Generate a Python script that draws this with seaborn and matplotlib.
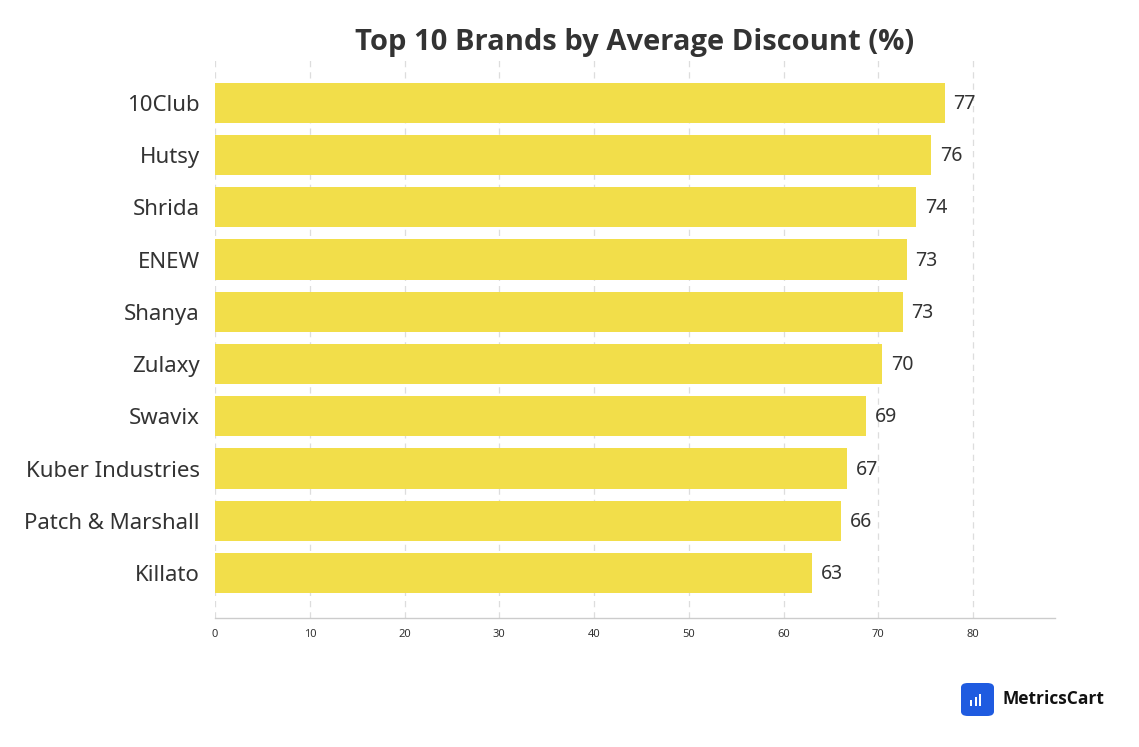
import matplotlib
matplotlib.use("Agg")
import matplotlib.pyplot as plt
import seaborn as sns
import pandas as pd
from matplotlib.patches import FancyBboxPatch

# Chart data
brands = [
    "10Club",
    "Hutsy",
    "Shrida",
    "ENEW",
    "Shanya",
    "Zulaxy",
    "Swavix",
    "Kuber Industries",
    "Patch & Marshall",
    "Killato",
]
avg_discount = [77.0, 75.6, 74.0, 73.0, 72.6, 70.4, 68.7, 66.7, 66.1, 63.0]
x_ticks = [0, 10, 20, 30, 40, 50, 60, 70, 80]

df = pd.DataFrame({"Brand": brands, "Discount": avg_discount})

sns.set_theme(style="white")
plt.rcParams["font.family"] = ["Noto Sans", "DejaVu Sans"]

text_color = "#333333"
bar_color = "#F2DE4A"

fig = plt.figure(figsize=(11.39, 7.47), dpi=100)
ax = fig.add_axes([0.1888, 0.1727, 0.7375, 0.7470])

sns.barplot(data=df, y="Brand", x="Discount", color=bar_color, width=0.77,
            saturation=1, linewidth=0, ax=ax, zorder=2)

# value labels
for i, v in enumerate(avg_discount):
    ax.text(v + 0.9, i + 0.02, f"{v:.0f}", va="center", ha="left",
            fontsize=14, color=text_color)

ax.set_xlim(0, 88.65)
ax.set_ylim(9.86, -0.82)
ax.set_xticks(x_ticks)
ax.set_xticklabels([str(t) for t in x_ticks], fontsize=8, color=text_color)
ax.tick_params(axis="y", labelsize=16, colors=text_color, length=0, pad=11)
ax.tick_params(axis="x", length=4, width=0.8, color="#999999", pad=4)
ax.set_xlabel("")
ax.set_ylabel("")

ax.grid(axis="x", linestyle=(0, (5, 4)), color="#dddddd", linewidth=0.9, zorder=0)
ax.grid(axis="y", visible=False)
for side in ["left", "right", "top"]:
    ax.spines[side].set_visible(False)
ax.spines["bottom"].set_color("#cccccc")
ax.spines["bottom"].set_linewidth(1.0)

fig.text(0.557, 0.943, "Top 10 Brands by Average Discount (%)", ha="center",
         va="center", fontsize=21, fontweight="bold", color=text_color,
         family=["Open Sans", "DejaVu Sans"])

# MetricsCart logo
icon = FancyBboxPatch((961 / 1139, 1 - 716 / 747), 33 / 1139, 33 / 747,
                      boxstyle="round,pad=0,rounding_size=0.006",
                      transform=fig.transFigure, facecolor="#1F5BE0",
                      edgecolor="none")
fig.patches.append(icon)
for k, h in enumerate([6, 9, 12]):
    fig.patches.append(plt.Rectangle(((970 + k * 4.5) / 1139, 1 - 706 / 747),
                                     2 / 1139, h / 747, facecolor="white",
                                     edgecolor="none", transform=fig.transFigure))
fig.text(1003 / 1139, 1 - 699 / 747, "MetricsCart", ha="left", va="center",
         fontsize=12.5, fontweight="bold", color="#111111",
         family=["Open Sans", "DejaVu Sans"])

fig.savefig("out.png", dpi=100)
